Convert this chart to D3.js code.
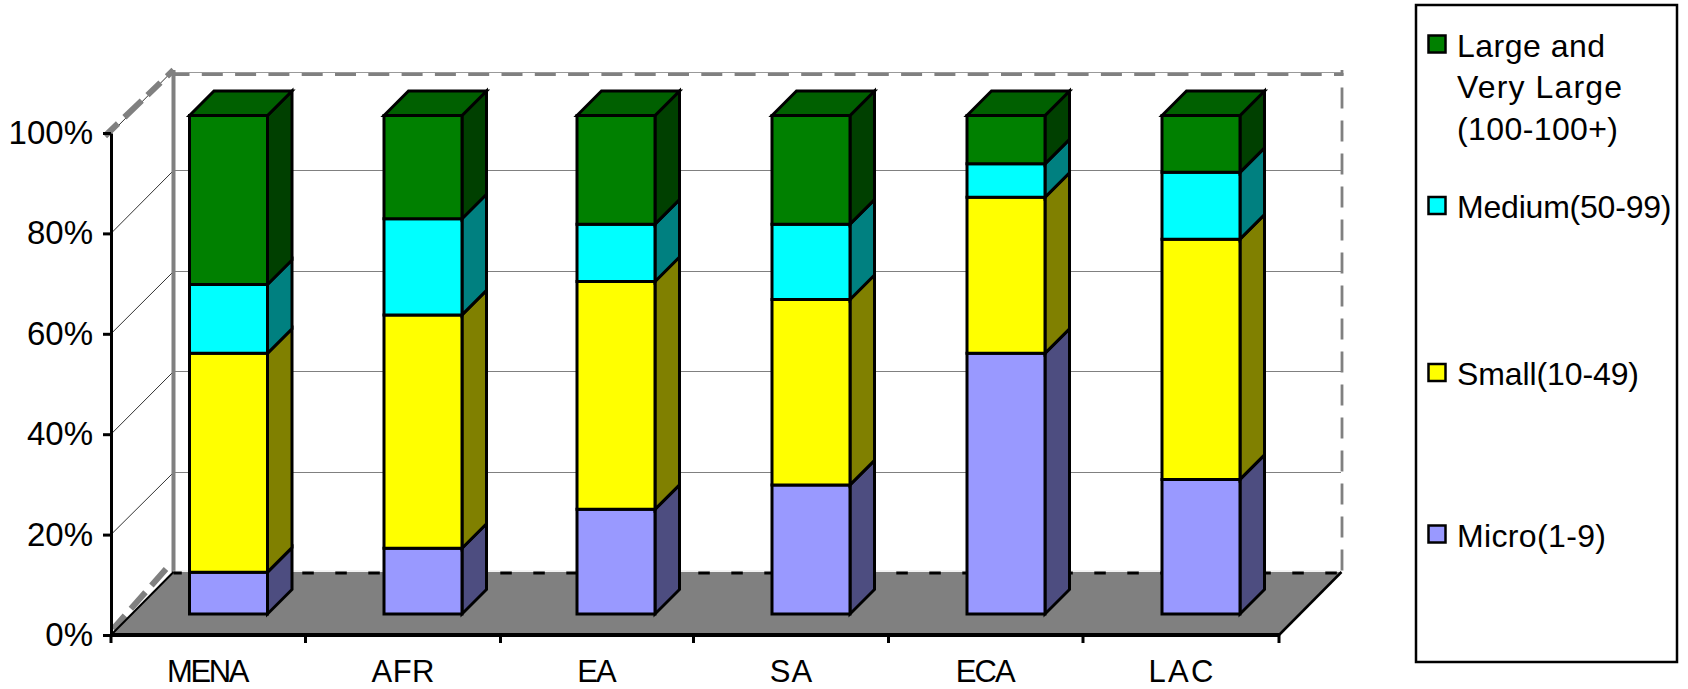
<!DOCTYPE html>
<html>
<head>
<meta charset="utf-8">
<script src="https://cdn.jsdelivr.net/npm/d3@7/dist/d3.min.js"></script>
<style>
html,body{margin:0;padding:0;background:#fff;}
svg{display:block;}
text{font-family:"Liberation Sans",Arial,sans-serif;fill:#000;}
</style>
</head>
<body>
<svg id="chart" width="1688" height="689"></svg>
<script>
// Share of firms by size class in each region (percent of the regional total)
const regions = ["MENA", "AFR", "EA", "SA", "ECA", "LAC"];
const micro  = [8.4, 13.2, 21.0, 25.9, 52.3, 27.0];
const small  = [43.9, 46.8, 45.7, 37.2, 31.3, 48.2];
const medium = [13.8, 19.3, 11.5, 15.1, 6.7, 13.4];
const large  = [33.9, 20.7, 21.8, 21.8, 9.7, 11.4];
const percentTicks = [0, 20, 40, 60, 80, 100];

const seriesKeys = ["micro", "small", "medium", "large"];
const seriesLabels = {
  micro: ["Micro(1-9)"],
  small: ["Small(10-49)"],
  medium: ["Medium(50-99)"],
  large: ["Large and", "Very Large", "(100-100+)"]
};
const faceColors = {
  micro:  {front: "#9999ff", side: "#4d4d80", top: "#7373bf"},
  small:  {front: "#ffff00", side: "#808000", top: "#bfbf00"},
  medium: {front: "#00ffff", side: "#008080", top: "#00bfbf"},
  large:  {front: "#008000", side: "#004000", top: "#006000"}
};

// Set widths keep the tight tracking of the labels
const labelWidth = {
  MENA: 82.5, AFR: 63, EA: 39.5, SA: 42.5, ECA: 60, LAC: 65,
  "Large and": 148, "Very Large": 165, "(100-100+)": 161,
  "Medium(50-99)": 214.5, "Small(10-49)": 182, "Micro(1-9)": 149
};

const rows = regions.map((r, i) => ({
  region: r, micro: micro[i], small: small[i], medium: medium[i], large: large[i]
}));

const svg = d3.select("#chart");

// Oblique projection of the plot box
const plot = {left: 111, right: 1279, bottom: 635, top: 133};
const wallDepth = {dx: 62.5, dy: 63};
const barInset = 21;     // how far into the box the bars stand
const barDepth = 24.5;   // depth of each bar
const barTop = 115.5;
const barW = 78;

// Slots and bars sit on whole device units, so they are not perfectly even
const bandEdges = [111, 305.5, 500.5, 693.5, 888.5, 1083, 1279];
const x = d3.scaleOrdinal().domain(regions).range(bandEdges);
const xBar = d3.scaleOrdinal().domain(regions).range([189.5, 384, 577, 772, 967, 1162]);
const xMid = r => (x(r) + bandEdges[regions.indexOf(r) + 1]) / 2;
const y = d3.scaleLinear().domain([0, 100]).range([plot.bottom, plot.top]);
const yBar = d3.scaleLinear().domain([0, 100]).range([plot.bottom - barInset, barTop]);

const poly = pts => "M" + pts.map(p => p.join(",")).join("L") + "Z";
const seg = (a, b) => "M" + a.join(",") + "L" + b.join(",");

const backX0 = plot.left + wallDepth.dx, backX1 = plot.right + wallDepth.dx;
const backY = v => y(v) - wallDepth.dy;

// Floor of the box
svg.append("path")
  .attr("d", poly([[plot.left, plot.bottom], [backX0, backY(0)], [backX1, backY(0)], [plot.right, plot.bottom]]))
  .attr("fill", "#808080");

// Gridlines across the back wall and down the side wall
const grid = svg.append("g");
percentTicks.filter(t => t > 0 && t < 100).forEach(t => {
  const gy = Math.round(backY(t)) + 0.5;
  grid.append("path").attr("d", seg([backX0, gy], [backX1, gy]))
    .attr("stroke", "#000").attr("stroke-width", 1).attr("stroke-dasharray", "1 1").attr("fill", "none");
  grid.append("path").attr("d", seg([plot.left, y(t)], [backX0, gy]))
    .attr("stroke", "#333").attr("stroke-width", 1).attr("fill", "none");
});

// Box outline: solid inner wall edge, long gray dashes elsewhere
const dashGray = (d, w, pattern, offset) => svg.append("path").attr("d", d).attr("fill", "none")
  .attr("stroke", "#808080").attr("stroke-width", w)
  .attr("stroke-dasharray", pattern).attr("stroke-dashoffset", offset);
svg.append("path").attr("d", seg([backX0, 72.5], [backX1, 72.5]))
  .attr("stroke", "#333").attr("stroke-width", 1).attr("stroke-dasharray", "1 1").attr("fill", "none");
dashGray(seg([backX0, 74.5], [backX1 + 2, 74.5]), 3, "21 12.3", 5);
dashGray(seg([backX1 + 0.5, backY(100)], [backX1 + 0.5, backY(0)]), 2.8, "21 12", 15.4);
svg.append("path").attr("d", seg([backX0, backY(100)], [backX0, backY(0)]))
  .attr("stroke", "#808080").attr("stroke-width", 4).attr("fill", "none");
svg.append("path").attr("d", seg([plot.left, y(100)], [backX0, backY(100)]))
  .attr("stroke", "#333").attr("stroke-width", 1).attr("fill", "none");
dashGray(seg([plot.left - 6, y(100) + 3], [backX0, backY(100)]), 6, "18 9 24 8", 0);
dashGray(seg([plot.left + 2, y(0) - 6], [backX0 - 3, backY(0) - 8]), 6, "22 9", 4);
svg.append("path").attr("d", seg([plot.left, plot.bottom], [backX0, backY(0)]))
  .attr("stroke", "#000").attr("stroke-width", 2).attr("fill", "none");
svg.append("path").attr("d", seg([backX0, backY(0) - 1], [backX1, backY(0) - 1]))
  .attr("stroke", "#ccc").attr("stroke-width", 1).attr("stroke-dasharray", "1 1").attr("fill", "none");
svg.append("path").attr("d", seg([backX0, backY(0) + 1], [backX1, backY(0) + 1]))
  .attr("stroke", "#000").attr("stroke-width", 3).attr("stroke-dasharray", "11.5 21.5").attr("stroke-dashoffset", 3.2).attr("fill", "none");
svg.append("path").attr("d", seg([plot.right, plot.bottom], [backX1, backY(0)]))
  .attr("stroke", "#000").attr("stroke-width", 2.5).attr("fill", "none");

// Stacked bars
const stacked = d3.stack().keys(seriesKeys)(rows);
const outline = sel => sel.attr("stroke", "#000").attr("stroke-width", 3).attr("stroke-linejoin", "miter");
regions.forEach((region, i) => {
  const g = svg.append("g").attr("class", "bar");
  const xa = xBar(region), xb = xa + barW;
  stacked.forEach(layer => {
    const key = layer.key;
    const [v0, v1] = layer[i];
    const ya = yBar(v0), yb = yBar(v1);
    g.append("path").attr("d", poly([[xb, yb], [xb + barDepth, yb - barDepth], [xb + barDepth, ya - barDepth], [xb, ya]]))
      .attr("fill", faceColors[key].side).call(outline);
    if (key === "large") {
      g.append("path").attr("d", poly([[xa, yb], [xa + barDepth, yb - barDepth], [xb + barDepth, yb - barDepth], [xb, yb]]))
        .attr("fill", faceColors[key].top).call(outline);
    }
    g.append("path").attr("d", poly([[xa, yb], [xb, yb], [xb, ya], [xa, ya]]))
      .attr("fill", faceColors[key].front).call(outline);
  });
});

// Axes
const xAxis = svg.append("g").attr("transform", `translate(0,${plot.bottom})`);
xAxis.append("line").attr("x1", plot.left).attr("x2", plot.right)
  .attr("stroke", "#000").attr("stroke-width", 4);
xAxis.selectAll(".edge").data(bandEdges).enter().append("line")
  .attr("x1", d => d).attr("x2", d => d).attr("y1", 0).attr("y2", 8)
  .attr("stroke", "#000").attr("stroke-width", 3);
xAxis.selectAll(".cat").data(regions).enter().append("text")
  .attr("x", d => xMid(d)).attr("y", 47).attr("text-anchor", "middle").attr("font-size", 31)
  .attr("textLength", d => labelWidth[d]).attr("lengthAdjust", "spacing").text(d => d);

const yAxis = svg.append("g").attr("transform", `translate(${plot.left},0)`)
  .call(d3.axisLeft(y).tickValues(percentTicks).tickSize(8).tickSizeOuter(0).tickPadding(10).tickFormat(d => d + "%"));
yAxis.select(".domain").attr("stroke", "#000").attr("stroke-width", 3);
yAxis.selectAll(".tick line").attr("stroke", "#000").attr("stroke-width", 3);
yAxis.selectAll(".tick text").attr("font-size", 33).attr("font-family", '"Liberation Sans",Arial,sans-serif').attr("fill", "#000");

// Legend, listed from the top of the stack down
svg.append("rect").attr("x", 1416).attr("y", 5).attr("width", 261).attr("height", 657)
  .attr("fill", "#fff").attr("stroke", "#000").attr("stroke-width", 2.5);
const legendEntries = [
  {key: "large", baseline: 56.5},
  {key: "medium", baseline: 218},
  {key: "small", baseline: 385},
  {key: "micro", baseline: 546.5}
];
legendEntries.forEach(e => {
  svg.append("rect").attr("x", 1428.5).attr("y", e.baseline - 21).attr("width", 17).attr("height", 17)
    .attr("fill", faceColors[e.key].front).attr("stroke", "#000").attr("stroke-width", 2.5);
  seriesLabels[e.key].forEach((line, j) => {
    svg.append("text").attr("x", 1457).attr("y", e.baseline + j * 41.8)
      .attr("font-size", 32).attr("textLength", labelWidth[line]).attr("lengthAdjust", "spacing").text(line);
  });
});
</script>
</body>
</html>
